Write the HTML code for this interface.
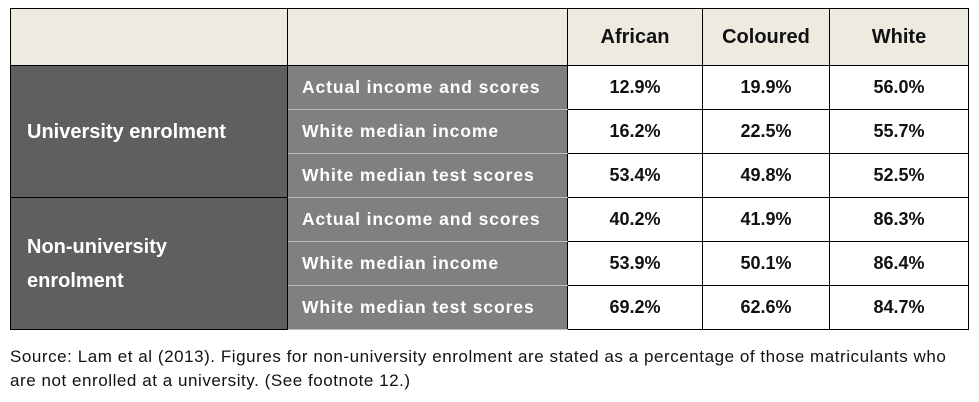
<!DOCTYPE html>
<html><head><meta charset="utf-8"><style>
body{margin:0;width:979px;height:402px;background:#fff;font-family:"Liberation Sans",sans-serif;position:relative;overflow:hidden}
table{position:absolute;left:10px;top:8px;border-collapse:collapse;table-layout:fixed}
td{border:1px solid #000;height:43px;padding:0;font-weight:bold;font-size:18px}
.h td{height:56px;background:#EDEAE0;text-align:center;font-size:20px;color:#111}
.g{background:#5F5F5F;color:#fff;padding-left:16px;font-size:20px;line-height:34px}
.s{background:#808080;color:#fff;padding-left:14px;border-top:1px solid #bbb;border-bottom:1px solid #bbb;font-size:17.5px;letter-spacing:0.9px}
.v{text-align:center;color:#111}
.note{position:absolute;left:10px;top:345px;font-size:17px;letter-spacing:0.55px;line-height:24px;color:#111;width:965px;white-space:nowrap}
</style></head><body>
<table>
<colgroup><col style="width:277px"><col style="width:280px"><col style="width:135px"><col style="width:127px"><col style="width:139px"></colgroup>
<tr class="h"><td></td><td></td><td>African</td><td>Coloured</td><td>White</td></tr>
<tr><td class="g" rowspan="3">University enrolment</td><td class="s">Actual income and scores</td><td class="v">12.9%</td><td class="v">19.9%</td><td class="v">56.0%</td></tr>
<tr><td class="s">White median income</td><td class="v">16.2%</td><td class="v">22.5%</td><td class="v">55.7%</td></tr>
<tr><td class="s">White median test scores</td><td class="v">53.4%</td><td class="v">49.8%</td><td class="v">52.5%</td></tr>
<tr><td class="g" rowspan="3">Non-university<br>enrolment</td><td class="s">Actual income and scores</td><td class="v">40.2%</td><td class="v">41.9%</td><td class="v">86.3%</td></tr>
<tr><td class="s">White median income</td><td class="v">53.9%</td><td class="v">50.1%</td><td class="v">86.4%</td></tr>
<tr><td class="s">White median test scores</td><td class="v">69.2%</td><td class="v">62.6%</td><td class="v">84.7%</td></tr>
</table>
<div class="note">Source: Lam et al (2013). Figures for non-university enrolment are stated as a percentage of those matriculants who<br>are not enrolled at a university. (See footnote 12.)</div>
</body></html>
